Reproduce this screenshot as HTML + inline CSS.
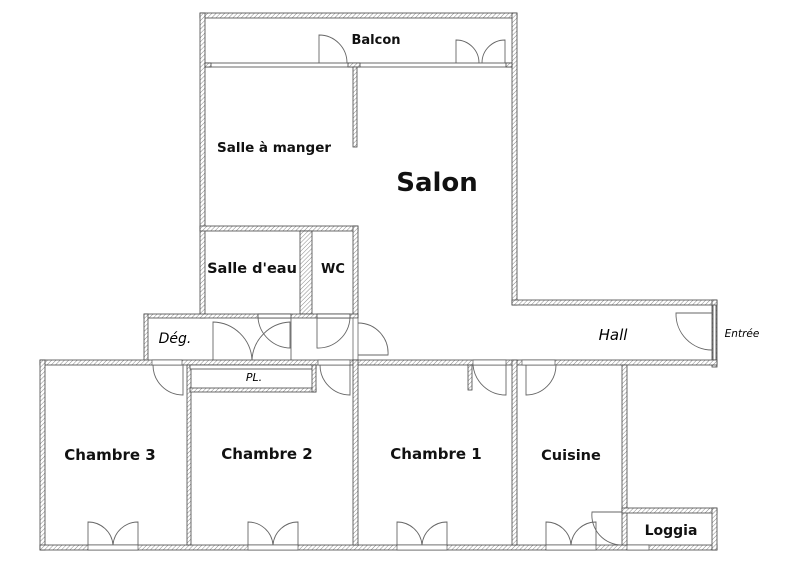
<!DOCTYPE html>
<html><head><meta charset="utf-8"><style>
html,body{margin:0;padding:0;background:#fff;}
svg{display:block;font-family:"DejaVu Sans","Liberation Sans",sans-serif;}
.w{fill:url(#h);stroke:#444;stroke-width:0.8}
.d{fill:none;stroke:#666;stroke-width:0.9}
.t{font-weight:bold;fill:#111}
</style></head><body>
<svg width="800" height="565" viewBox="0 0 800 565" xmlns="http://www.w3.org/2000/svg">
<defs><pattern id="h" width="3" height="3" patternUnits="userSpaceOnUse" patternTransform="rotate(45)"><rect width="3" height="3" fill="#fff"/><line x1="0" y1="0" x2="0" y2="3" stroke="#888" stroke-width="1"/></pattern></defs>
<rect width="800" height="565" fill="#fff"/>
<rect class="w" x="200" y="13" width="317" height="5"/>
<rect class="w" x="200" y="13" width="5" height="305"/>
<rect class="w" x="512" y="13" width="5" height="292"/>
<rect class="w" x="205" y="63" width="307" height="4" style="fill:#fff"/>
<rect class="w" x="205" y="63" width="6" height="4"/>
<rect class="w" x="348" y="63" width="12" height="4"/>
<rect class="w" x="506" y="63" width="6" height="4"/>
<rect class="w" x="353" y="67" width="4" height="80"/>
<path class="d" d="M319 63 V35 A28 28 0 0 1 347 63"/>
<path class="d" d="M456 63 V40 A23 23 0 0 1 479 63 M505 63 V40 A23 23 0 0 0 482 63"/>
<rect class="w" x="512" y="300" width="205" height="5"/>
<rect class="w" x="712" y="300" width="5" height="67"/>
<rect x="713" y="305" width="3" height="55" fill="#fff" stroke="#444" stroke-width="0.8"/>
<path class="d" d="M712 313 H676 A36 36 0 0 0 712 350"/>
<rect class="w" x="200" y="226" width="158" height="5"/>
<rect class="w" x="300" y="231" width="12" height="83"/>
<rect class="w" x="353" y="226" width="5" height="92"/>
<rect class="w" x="144" y="314" width="214" height="4"/>
<rect x="258" y="314" width="33" height="4" fill="#fff" stroke="#444" stroke-width="0.8"/>
<rect x="317" y="314" width="33" height="4" fill="#fff" stroke="#444" stroke-width="0.8"/>
<rect class="w" x="144" y="314" width="4" height="48"/>
<path class="d" d="M258 318 A33 33 0 0 0 291 348 H291"/>
<path class="d" d="M291 318 V362"/>
<path class="d" d="M213 362 V322 A40 40 0 0 1 252 360 M290 348 V322 A40 40 0 0 0 252 360"/>
<path class="d" d="M317 318 V348 A32 32 0 0 0 350 318"/>
<path class="d" d="M358 355 H388 A30 30 0 0 0 358 323"/>
<rect x="353" y="318" width="5" height="42" fill="#fff" stroke="#666" stroke-width="0.8"/>
<rect class="w" x="40" y="360" width="677" height="5"/>
<rect class="w" x="40" y="360" width="5" height="190"/>
<rect class="w" x="40" y="545" width="677" height="5"/>
<rect class="w" x="187" y="365" width="4" height="180"/>
<rect class="w" x="353" y="360" width="5" height="185"/>
<rect class="w" x="512" y="360" width="5" height="185"/>
<rect class="w" x="622" y="365" width="5" height="180"/>
<rect class="w" x="622" y="508" width="95" height="5"/>
<rect class="w" x="712" y="508" width="5" height="42"/>
<rect class="w" x="468" y="365" width="4" height="25"/>
<rect x="152" y="360" width="30" height="5" fill="#fff" stroke="#444" stroke-width="0.6"/>
<rect x="318" y="360" width="32" height="5" fill="#fff" stroke="#444" stroke-width="0.6"/>
<rect x="473" y="360" width="33" height="5" fill="#fff" stroke="#444" stroke-width="0.6"/>
<rect x="522" y="360" width="33" height="5" fill="#fff" stroke="#444" stroke-width="0.6"/>
<path class="d" d="M183 365 V395 A30 30 0 0 1 153 365"/>
<path class="d" d="M350 365 V395 A30 30 0 0 1 320 365"/>
<path class="d" d="M506 365 V395 A33 33 0 0 1 473 365"/>
<path class="d" d="M526 365 V395 A30 30 0 0 0 556 365"/>
<rect class="w" x="190" y="365" width="126" height="4" style="fill:#fff"/>
<rect class="w" x="190" y="388" width="126" height="4"/>
<rect class="w" x="312" y="365" width="4" height="27"/>
<g>
<rect x="88" y="545" width="50" height="5" fill="#fff" stroke="#444" stroke-width="0.6"/>
<path class="d" d="M88 545 V522 A25 25 0 0 1 113 545 M138 545 V522 A25 25 0 0 0 113 545"/>
<rect x="248" y="545" width="50" height="5" fill="#fff" stroke="#444" stroke-width="0.6"/>
<path class="d" d="M248 545 V522 A25 25 0 0 1 273 545 M298 545 V522 A25 25 0 0 0 273 545"/>
<rect x="397" y="545" width="50" height="5" fill="#fff" stroke="#444" stroke-width="0.6"/>
<path class="d" d="M397 545 V522 A25 25 0 0 1 422 545 M447 545 V522 A25 25 0 0 0 422 545"/>
<rect x="546" y="545" width="50" height="5" fill="#fff" stroke="#444" stroke-width="0.6"/>
<path class="d" d="M546 545 V522 A25 25 0 0 1 571 545 M596 545 V522 A25 25 0 0 0 571 545"/>
<rect x="627" y="545" width="22" height="5" fill="#fff" stroke="#444" stroke-width="0.6"/>
<path class="d" d="M622 512 H592 A30 30 0 0 0 622 545"/>
</g>
<text class="t" x="376" y="44" font-size="13" text-anchor="middle">Balcon</text>
<text class="t" x="274" y="152" font-size="13.5" text-anchor="middle">Salle à manger</text>
<text class="t" x="437" y="191" font-size="26" text-anchor="middle">Salon</text>
<text class="t" x="252" y="273" font-size="14.5" text-anchor="middle">Salle d'eau</text>
<text class="t" x="333" y="273" font-size="13" text-anchor="middle">WC</text>
<text x="175" y="343" font-size="14" font-style="italic" text-anchor="middle">Dég.</text>
<text x="613" y="340" font-size="15" font-style="italic" text-anchor="middle">Hall</text>
<text x="742" y="337" font-size="10.5" font-style="italic" text-anchor="middle">Entrée</text>
<text x="254" y="381" font-size="11" font-style="italic" text-anchor="middle">PL.</text>
<text class="t" x="110" y="460" font-size="15" text-anchor="middle">Chambre 3</text>
<text class="t" x="267" y="459" font-size="15" text-anchor="middle">Chambre 2</text>
<text class="t" x="436" y="459" font-size="15" text-anchor="middle">Chambre 1</text>
<text class="t" x="571" y="460" font-size="14.5" text-anchor="middle">Cuisine</text>
<text class="t" x="671" y="535" font-size="14" text-anchor="middle">Loggia</text>
</svg>
</body></html>
